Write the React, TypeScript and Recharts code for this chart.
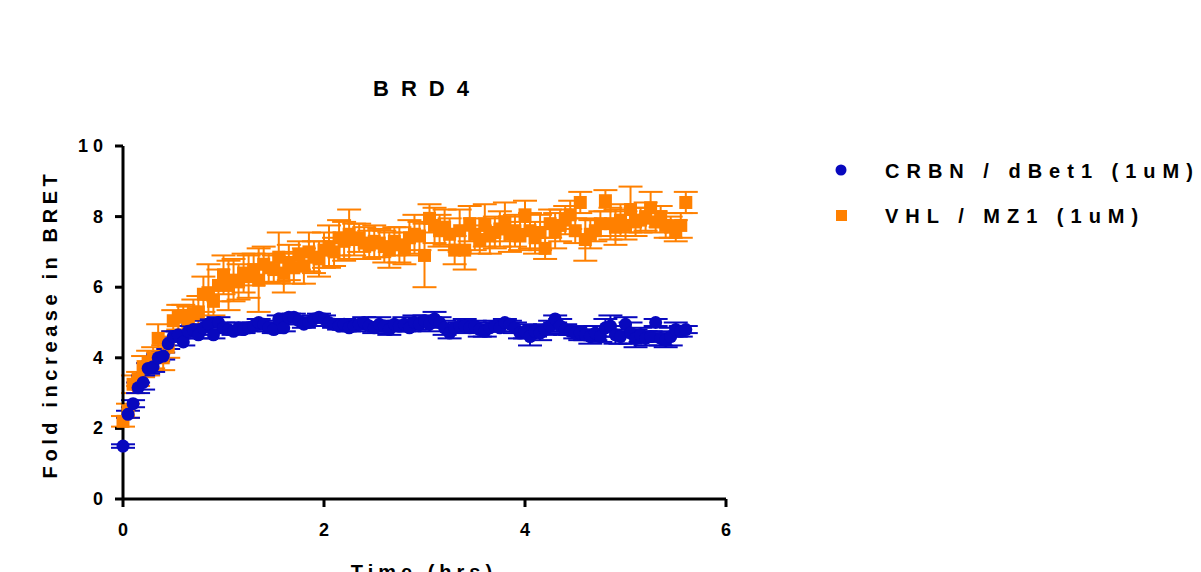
import { ErrorBar, Scatter, ScatterChart, XAxis, YAxis } from "recharts";

const BLUE = "#0808BE";
const ORANGE = "#FF8000";
const FONT = "'Liberation Sans', Arial, sans-serif";

// sampling times (hrs)
const times = [
  0, 0.05, 0.1, 0.15, 0.2, 0.25, 0.3, 0.35, 0.4, 0.45,
  0.5, 0.55, 0.6, 0.65, 0.7, 0.75, 0.8, 0.85, 0.9, 0.95,
  1.0, 1.05, 1.1, 1.15, 1.2, 1.25, 1.3, 1.35, 1.4, 1.45,
  1.5, 1.55, 1.6, 1.65, 1.7, 1.75, 1.8, 1.85, 1.9, 1.95,
  2.0, 2.05, 2.1, 2.15, 2.2, 2.25, 2.3, 2.35, 2.4, 2.45,
  2.5, 2.55, 2.6, 2.65, 2.7, 2.75, 2.8, 2.85, 2.9, 2.95,
  3.0, 3.05, 3.1, 3.15, 3.2, 3.25, 3.3, 3.35, 3.4, 3.45,
  3.5, 3.55, 3.6, 3.65, 3.7, 3.75, 3.8, 3.85, 3.9, 3.95,
  4.0, 4.05, 4.1, 4.15, 4.2, 4.25, 4.3, 4.35, 4.4, 4.45,
  4.5, 4.55, 4.6, 4.65, 4.7, 4.75, 4.8, 4.85, 4.9, 4.95,
  5.0, 5.05, 5.1, 5.15, 5.2, 5.25, 5.3, 5.35, 5.4, 5.45,
  5.5, 5.55, 5.6,
];

const crbnMean = [
  1.5, 2.4, 2.7, 3.15, 3.3, 3.7, 3.75, 4.0, 4.05, 4.4,
  4.6, 4.65, 4.45, 4.75, 4.8, 4.65, 4.85, 4.95, 4.65, 5.0,
  4.85, 4.8, 4.75, 4.85, 4.8, 4.85, 4.9, 5.0, 4.95, 4.85,
  4.8, 5.1, 4.85, 5.15, 5.15, 5.05, 4.95, 5.0, 5.1, 5.15,
  5.1, 5.0, 4.95, 4.9, 4.95, 4.85, 4.9, 4.95, 5.0, 4.9,
  4.85, 4.95, 4.9, 4.8, 4.95, 4.9, 4.95, 4.85, 5.0, 4.95,
  5.05, 4.95, 5.1, 5.0, 4.85, 4.7, 4.85, 4.9, 4.9, 4.85,
  4.9, 4.8, 4.75, 4.85, 4.9, 4.85, 5.0, 4.95, 4.85, 4.7,
  4.75, 4.6, 4.75, 4.7, 4.8, 4.9, 5.1, 4.9, 4.8, 4.75,
  4.7, 4.7, 4.65, 4.6, 4.7, 4.6, 4.85, 4.9, 4.65, 4.6,
  4.95, 4.7, 4.55, 4.65, 4.55, 4.6, 5.0, 4.55, 4.5, 4.6,
  4.8, 4.75, 4.8,
];

const crbnSem = [
  0.05, 0.1, 0.1, 0.15, 0.2, 0.15, 0.15, 0.1, 0.1, 0.15,
  0.15, 0.1, 0.1, 0.15, 0.15, 0.1, 0.2, 0.15, 0.1, 0.15,
  0.15, 0.1, 0.1, 0.15, 0.1, 0.1, 0.1, 0.1, 0.1, 0.1,
  0.1, 0.1, 0.1, 0.1, 0.1, 0.1, 0.1, 0.1, 0.1, 0.1,
  0.1, 0.1, 0.1, 0.1, 0.15, 0.1, 0.15, 0.1, 0.15, 0.1,
  0.15, 0.2, 0.1, 0.15, 0.1, 0.15, 0.2, 0.1, 0.2, 0.15,
  0.15, 0.2, 0.2, 0.15, 0.2, 0.15, 0.1, 0.1, 0.2, 0.1,
  0.15, 0.2, 0.15, 0.1, 0.15, 0.1, 0.1, 0.1, 0.15, 0.15,
  0.2, 0.25, 0.15, 0.2, 0.15, 0.15, 0.1, 0.2, 0.15, 0.1,
  0.15, 0.2, 0.15, 0.2, 0.2, 0.15, 0.25, 0.3, 0.25, 0.2,
  0.2, 0.3, 0.25, 0.2, 0.2, 0.15, 0.1, 0.2, 0.2, 0.25,
  0.2, 0.15, 0.1,
];

const vhlMean = [
  2.2, 2.5, 3.25, 3.4, 3.75, 3.85, 4.0, 4.55, 4.0, 4.3,
  5.05, 5.15, 5.2, 5.1, 5.25, 5.3, 5.8, 5.8, 5.6, 6.05,
  6.35, 6.05, 6.2, 6.15, 6.4, 6.3, 6.5, 6.2, 6.65, 6.55,
  6.5, 6.85, 6.4, 6.7, 6.55, 6.9, 6.6, 7.0, 6.85, 6.8,
  7.05, 7.15, 7.0, 7.4, 7.3, 7.5, 7.35, 7.4, 7.25, 7.2,
  7.3, 7.25, 7.15, 7.05, 7.3, 7.2, 7.1, 7.4, 7.5, 7.45,
  6.9, 7.95, 7.75, 7.6, 7.7, 7.5, 7.05, 7.6, 7.05, 7.8,
  7.5, 7.35, 7.75, 7.45, 7.55, 7.65, 7.85, 7.5, 7.6, 7.45,
  8.05, 7.6, 7.4, 7.55, 7.1, 7.8, 7.6, 7.75, 7.9, 8.05,
  7.6, 8.4, 7.35, 7.5, 7.6, 7.8, 8.45, 7.8, 7.7, 7.9,
  7.75, 8.2, 7.85, 7.9, 8.0, 8.25, 7.85, 8.0, 7.75, 7.7,
  7.6, 7.75, 8.4,
];

const vhlSem = [
  0.15, 0.2, 0.25, 0.2, 0.3, 0.35, 0.3, 0.4, 0.35, 0.3,
  0.3, 0.35, 0.3, 0.35, 0.4, 0.45, 0.5, 0.85, 0.4, 0.45,
  0.55, 0.7, 0.6, 0.5, 0.55, 0.6, 0.45, 0.9, 0.5, 0.4,
  0.4, 0.7, 0.55, 0.5, 0.45, 0.4, 0.5, 0.55, 0.45, 0.5,
  0.5, 0.6, 0.4, 0.5, 0.55, 0.7, 0.45, 0.4, 0.45, 0.4,
  0.45, 0.4, 0.45, 0.5, 0.4, 0.5, 0.45, 0.5, 0.55, 0.4,
  0.9, 0.4, 0.5, 0.45, 0.5, 0.45, 0.4, 0.6, 0.55, 0.5,
  0.45, 0.4, 0.6, 0.5, 0.45, 0.5, 0.55, 0.5, 0.45, 0.4,
  0.4, 0.5, 0.45, 0.5, 0.3, 0.4, 0.5, 0.45, 0.4, 0.4,
  0.35, 0.3, 0.6, 0.4, 0.3, 0.35, 0.3, 0.45, 0.5, 0.45,
  0.4, 0.65, 0.4, 0.35, 0.4, 0.45, 0.3, 0.3, 0.35, 0.3,
  0.3, 0.35, 0.3,
];

const xTicks = [0, 2, 4, 6];
const yTicks = [0, 2, 4, 6, 8, 10];

const crbnPoints = times.map((t, i) => ({ t, v: crbnMean[i], e: crbnSem[i] }));
const vhlPoints = times.map((t, i) => ({ t, v: vhlMean[i], e: vhlSem[i] }));

const Circle = (p: any) => <circle cx={p.cx} cy={p.cy} r={6.5} fill={BLUE} />;
const Square = (p: any) => <rect x={p.cx - 6.5} y={p.cy - 6.5} width={13} height={13} fill={ORANGE} />;

const XTick = (p: any) => (
  <text x={p.x + 2} y={p.y + 27} textAnchor="middle" fontFamily={FONT} fontWeight="bold" fontSize={18} letterSpacing={4} fill="#000">
    {p.payload.value}
  </text>
);

const YTick = (p: any) => (
  <text x={p.x - 5} y={p.y + 6} textAnchor="end" fontFamily={FONT} fontWeight="bold" fontSize={18} letterSpacing={5} fill="#000">
    {p.payload.value}
  </text>
);

const legendItems = [
  { label: "CRBN / dBet1 (1uM)", color: BLUE, shape: "circle", top: 159 },
  { label: "VHL / MZ1 (1uM)", color: ORANGE, shape: "square", top: 204 },
];

function LegendBox() {
  return (
    <>
      {legendItems.map((it) => (
        <div key={it.label} style={{ position: "absolute", left: 832, top: it.top, display: "flex", alignItems: "center" }}>
          <svg width={20} height={24}>
            {it.shape === "circle" ? (
              <circle cx={9} cy={11} r={5.5} fill={it.color} />
            ) : (
              <rect x={4} y={6} width={11} height={11} fill={it.color} />
            )}
          </svg>
          <span style={{ marginLeft: 33, fontFamily: FONT, fontWeight: "bold", fontSize: 20, letterSpacing: 7, color: "#000", whiteSpace: "nowrap" }}>
            {it.label}
          </span>
        </div>
      ))}
    </>
  );
}

export default function App() {
  return (
    <div style={{ position: "absolute", left: 0, top: 0, width: 1201, height: 572, background: "#fff", overflow: "hidden" }}>
      <div style={{ position: "absolute", left: 315, top: 76, width: 200, textAlign: "center", fontFamily: FONT, fontWeight: "bold", fontSize: 22, letterSpacing: 12, paddingLeft: 12 }}>
        BRD4
      </div>
      <ScatterChart width={1201} height={572} margin={{ top: 146, right: 475, bottom: 0, left: 0 }}>
        <XAxis
          type="number"
          dataKey="t"
          domain={[0, 6]}
          ticks={xTicks}
          height={73}
          tickSize={8}
          axisLine={{ stroke: "#000", strokeWidth: 3 }}
          tickLine={{ stroke: "#000", strokeWidth: 3 }}
          tick={<XTick />}
          label={{
            content: () => (
              <text x={424} y={579} textAnchor="middle" fontFamily={FONT} fontWeight="bold" fontSize={20} letterSpacing={5} fill="#000">
                Time (hrs)
              </text>
            ),
          }}
        />
        <YAxis
          type="number"
          dataKey="v"
          domain={[0, 10]}
          ticks={yTicks}
          width={123}
          tickSize={8}
          axisLine={{ stroke: "#000", strokeWidth: 3 }}
          tickLine={{ stroke: "#000", strokeWidth: 3 }}
          tick={<YTick />}
          label={{
            content: () => (
              <text x={57} y={324} transform="rotate(-90 57 324)" textAnchor="middle" fontFamily={FONT} fontWeight="bold" fontSize={20} letterSpacing={4.6} fill="#000">
                Fold increase in BRET
              </text>
            ),
          }}
        />
        <Scatter name="VHL / MZ1 (1uM)" data={vhlPoints} shape={<Square />} isAnimationActive={false}>
          <ErrorBar dataKey="e" direction="y" width={12} stroke={ORANGE} strokeWidth={2} />
        </Scatter>
        <Scatter name="CRBN / dBet1 (1uM)" data={crbnPoints} shape={<Circle />} isAnimationActive={false}>
          <ErrorBar dataKey="e" direction="y" width={12} stroke={BLUE} strokeWidth={2} />
        </Scatter>
      </ScatterChart>
      <LegendBox />
    </div>
  );
}
